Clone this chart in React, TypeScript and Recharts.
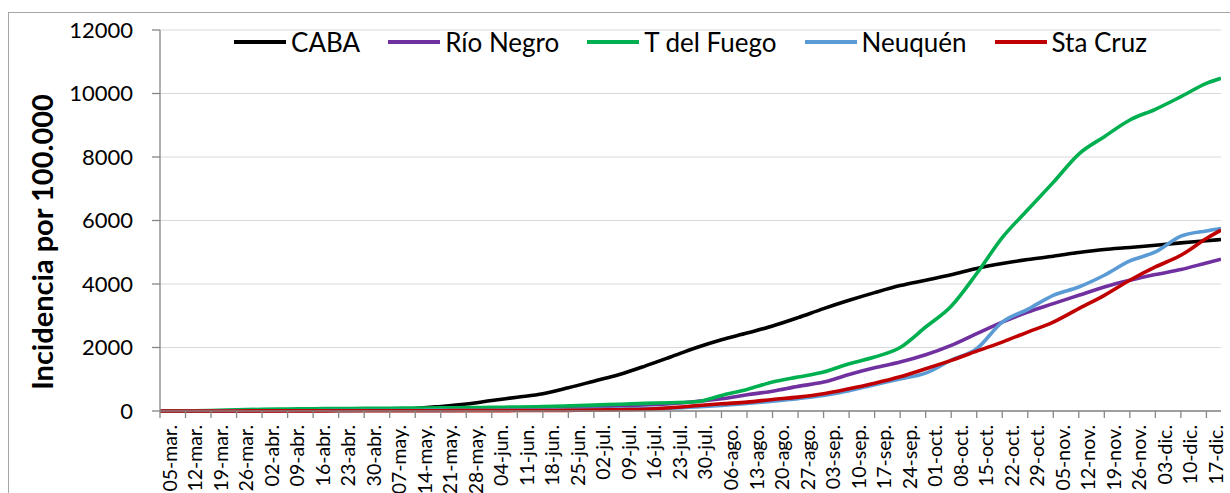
import React from "react";
import { LineChart, Line, XAxis, YAxis, CartesianGrid, Label } from "recharts";

// Day index from 05-mar (weekly samples plus the last day shown)
const days = [
  0, 7, 14, 21, 28, 35, 42, 49, 56, 63, 70, 77, 84, 91, 98, 105, 112, 119, 126, 133, 140,
  147, 154, 161, 168, 175, 182, 189, 196, 203, 210, 217, 224, 231, 238, 245, 252, 259, 266,
  273, 280, 287, 291,
];

const caba = [
  0, 2, 5, 10, 18, 25, 32, 40, 50, 62, 80, 142, 220, 331, 435, 543, 732, 940, 1150, 1414, 1700,
  1993, 2246, 2455, 2676, 2940, 3224, 3486, 3728, 3950, 4120, 4290, 4490, 4644, 4770, 4875, 4990,
  5086, 5149, 5222, 5296, 5360, 5400,
];

const rioNegro = [
  0, 1, 3, 5, 10, 15, 20, 25, 30, 35, 40, 48, 55, 65, 78, 92, 110, 130, 160, 190, 230, 300, 385,
  510, 625, 775, 910, 1150, 1360, 1540, 1770, 2066, 2435, 2800, 3117, 3382, 3644, 3906, 4117,
  4297, 4455, 4663, 4780,
];

const tDelFuego = [
  0, 5, 15, 35, 55, 65, 72, 78, 82, 88, 92, 98, 105, 115, 125, 140, 160, 185, 215, 240, 262, 290,
  490, 680, 910, 1070, 1225, 1490, 1700, 2000, 2645, 3300, 4330, 5460, 6340, 7200, 8093, 8640,
  9165, 9503, 9900, 10320, 10480,
];

const neuquen = [
  0, 1, 2, 4, 6, 8, 10, 12, 14, 16, 18, 20, 22, 25, 28, 32, 40, 50, 60, 75, 90, 125, 175, 240,
  310, 390, 490, 640, 830, 1010, 1193, 1600, 1962, 2800, 3202, 3644, 3906, 4275, 4727, 5010,
  5506, 5672, 5748,
];

const staCruz = [
  0, 0, 1, 2, 3, 4, 5, 6, 7, 8, 9, 10, 11, 12, 14, 16, 20, 30, 40, 55, 100, 164, 227, 280, 363,
  436, 542, 700, 877, 1080, 1330, 1593, 1887, 2171, 2486, 2800, 3224, 3644, 4117, 4537, 4906,
  5433, 5695,
];

const tickDays = [
  0, 7, 14, 21, 28, 35, 42, 49, 56, 63, 70, 77, 84, 91, 98, 105, 112, 119, 126, 133, 140, 147,
  154, 161, 168, 175, 182, 189, 196, 203, 210, 217, 224, 231, 238, 245, 252, 259, 266, 273, 280,
  287,
];

const tickLabels = [
  "05-mar.", "12-mar.", "19-mar.", "26-mar.", "02-abr.", "09-abr.", "16-abr.", "23-abr.",
  "30-abr.", "07-may.", "14-may.", "21-may.", "28-may.", "04-jun.", "11-jun.", "18-jun.",
  "25-jun.", "02-jul.", "09-jul.", "16-jul.", "23-jul.", "30-jul.", "06-ago.", "13-ago.",
  "20-ago.", "27-ago.", "03-sep.", "10-sep.", "17-sep.", "24-sep.", "01-oct.", "08-oct.",
  "15-oct.", "22-oct.", "29-oct.", "05-nov.", "12-nov.", "19-nov.", "26-nov.", "03-dic.",
  "10-dic.", "17-dic.",
];

const yTicks = [0, 2000, 4000, 6000, 8000, 10000, 12000];

const seriesDefs = [
  { key: "caba", name: "CABA", color: "#000000", values: caba },
  { key: "rioNegro", name: "Río Negro", color: "#7030A0", values: rioNegro },
  { key: "tDelFuego", name: "T del Fuego", color: "#00B050", values: tDelFuego },
  { key: "neuquen", name: "Neuquén", color: "#5B9BD5", values: neuquen },
  { key: "staCruz", name: "Sta Cruz", color: "#C00000", values: staCruz },
];

const data = days.map((d, i) => {
  const row: Record<string, number> = { day: d };
  seriesDefs.forEach((s) => {
    row[s.key] = s.values[i];
  });
  return row;
});

const FONT = "Lato, 'Open Sans', sans-serif";

const XTick = (props: any) => {
  const { x, y, payload } = props;
  const idx = tickDays.indexOf(payload.value);
  const label = idx >= 0 ? tickLabels[idx] : "";
  return (
    <g transform={`translate(${x},${y})`}>
      <text
        transform="rotate(-90)"
        x={0}
        y={16.5}
        textAnchor="end"
        fontFamily={FONT}
        fontSize={19.5}
        fill="#000"
      >
        {label}
      </text>
    </g>
  );
};

const LegendBox = () => (
  <div
    style={{
      position: "absolute",
      top: 27,
      left: 160,
      width: 1061,
      display: "flex",
      justifyContent: "center",
      alignItems: "center",
      gap: 28,
      fontFamily: FONT,
      fontSize: 26,
      color: "#000",
      height: 30,
      lineHeight: "30px",
    }}
  >
    {seriesDefs.map((s) => (
      <div key={s.key} style={{ display: "flex", alignItems: "center" }}>
        <svg width={52} height={6} style={{ marginRight: 5 }}>
          <line x1={0} y1={3} x2={52} y2={3} stroke={s.color} strokeWidth={4} />
        </svg>
        <span>{s.name}</span>
      </div>
    ))}
  </div>
);

export default function App() {
  return (
    <div style={{ position: "relative", width: 1230, height: 493, overflow: "hidden", background: "#fff" }}>
      <style>{"body{margin:0;overflow:hidden;background:#fff}"}</style>
      <div
        style={{
          position: "absolute",
          left: 8,
          top: 12,
          width: 1400,
          height: 700,
          borderTop: "1.5px solid #a6a6a6",
          borderLeft: "1.5px solid #a6a6a6",
          boxSizing: "border-box",
        }}
      />
      <div style={{ position: "absolute", left: 0, top: 0 }}>
        <LineChart
          width={1230}
          height={493}
          data={data}
          margin={{ top: 30, right: 9, bottom: 0, left: 0 }}
        >
          <CartesianGrid vertical={false} stroke="#d9d9d9" strokeWidth={1.2} />
          <XAxis
            dataKey="day"
            type="number"
            domain={[0, 291]}
            ticks={tickDays}
            interval={0}
            height={82}
            tickSize={7}
            tickMargin={7}
            axisLine={{ stroke: "#868686", strokeWidth: 1.3 }}
            tickLine={{ stroke: "#868686", strokeWidth: 1.3 }}
            tick={<XTick />}
            allowDataOverflow
          />
          <YAxis
            type="number"
            domain={[0, 12000]}
            ticks={yTicks}
            interval={0}
            width={160}
            tickSize={8}
            tickMargin={19}
            axisLine={{ stroke: "#868686", strokeWidth: 1.3 }}
            tickLine={{ stroke: "#868686", strokeWidth: 1.3 }}
            tick={{ fontFamily: FONT, fontSize: 22, fill: "#000" }}
          >
            <Label
              content={() => (
                <text
                  x={41}
                  y={242}
                  transform="rotate(-90 41 242)"
                  textAnchor="middle"
                  dominantBaseline="central"
                  fontFamily={FONT}
                  fontWeight="bold"
                  fontSize={29}
                  fill="#000"
                >
                  Incidencia por 100.000
                </text>
              )}
            />
          </YAxis>
          {seriesDefs.map((s) => (
            <Line
              key={s.key}
              type="monotone"
              dataKey={s.key}
              name={s.name}
              stroke={s.color}
              strokeWidth={3.6}
              dot={false}
              activeDot={false}
              isAnimationActive={false}
            />
          ))}
        </LineChart>
      </div>
      <LegendBox />
    </div>
  );
}
